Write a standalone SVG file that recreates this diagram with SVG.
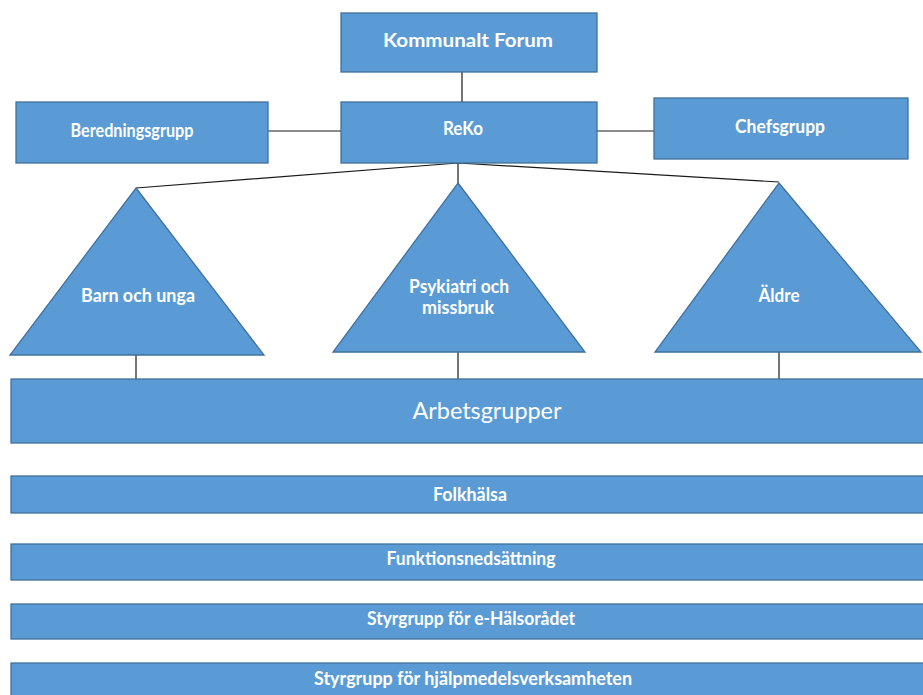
<svg xmlns="http://www.w3.org/2000/svg" width="923" height="695" viewBox="0 0 923 695">
<style>
.box{fill:#5B9BD5;stroke:#41719C;stroke-width:1.3}
.t{fill:#fff;font-family:Lato,"Open Sans","Liberation Sans",sans-serif;font-weight:700;font-size:18px;text-anchor:middle}
.big{font-weight:400;font-size:23px}
.c{stroke:#1a1a1a;stroke-width:1.2;fill:none}
</style>
<rect width="923" height="695" fill="#fff"/>
<g id="connectors">
<line class="c" x1="462" y1="72" x2="462" y2="102"/>
<line class="c" x1="268" y1="131" x2="341" y2="131"/>
<line class="c" x1="597" y1="131" x2="654" y2="131"/>
<polyline class="c" points="136,188 458,163 779,182"/>
<line class="c" x1="458" y1="163" x2="458" y2="183"/>
<line class="c" x1="136" y1="355" x2="136" y2="379"/>
<line class="c" x1="458" y1="352" x2="458" y2="379"/>
<line class="c" x1="779" y1="352" x2="779" y2="379"/>
</g>
<g id="kommunalt-forum">
<rect class="box" x="341" y="13" width="256" height="59"/>
<text class="t" x="468" y="47" font-size="21" textLength="170" lengthAdjust="spacingAndGlyphs">Kommunalt Forum</text>
</g>
<g id="reko">
<rect class="box" x="341" y="102" width="256" height="61"/>
<text class="t" x="463" y="135" textLength="40" lengthAdjust="spacingAndGlyphs">ReKo</text>
</g>
<g id="beredningsgrupp">
<rect class="box" x="16" y="102" width="252" height="61"/>
<text class="t" x="132" y="137" textLength="123" lengthAdjust="spacingAndGlyphs">Beredningsgrupp</text>
</g>
<g id="chefsgrupp">
<rect class="box" x="654" y="98" width="254" height="61"/>
<text class="t" x="780" y="133" textLength="90" lengthAdjust="spacingAndGlyphs">Chefsgrupp</text>
</g>
<g id="barn-och-unga">
<polygon class="box" points="136,188 264,355 10,355"/>
<text class="t" x="138" y="302" textLength="114" lengthAdjust="spacingAndGlyphs">Barn och unga</text>
</g>
<g id="psykiatri-och-missbruk">
<polygon class="box" points="458,183 585,352 333,352"/>
<text class="t" x="459" y="293" textLength="100" lengthAdjust="spacingAndGlyphs">Psykiatri och</text>
<text class="t" x="458" y="314" textLength="72" lengthAdjust="spacingAndGlyphs">missbruk</text>
</g>
<g id="aldre">
<polygon class="box" points="779,183 921,352 655,352"/>
<text class="t" x="779" y="302" textLength="41" lengthAdjust="spacingAndGlyphs">Äldre</text>
</g>
<g id="arbetsgrupper">
<rect class="box" x="11" y="379" width="920" height="64"/>
<text class="t big" x="487" y="419" textLength="149" lengthAdjust="spacingAndGlyphs">Arbetsgrupper</text>
</g>
<g id="folkhalsa">
<rect class="box" x="11" y="476" width="920" height="37"/>
<text class="t" x="470" y="501" textLength="74" lengthAdjust="spacingAndGlyphs">Folkhälsa</text>
</g>
<g id="funktionsnedsattning">
<rect class="box" x="11" y="544" width="920" height="36"/>
<text class="t" x="471" y="565" textLength="169" lengthAdjust="spacingAndGlyphs">Funktionsnedsättning</text>
</g>
<g id="styrgrupp-ehalso">
<rect class="box" x="11" y="604" width="920" height="35"/>
<text class="t" x="471" y="625" textLength="208" lengthAdjust="spacingAndGlyphs">Styrgrupp för e-Hälsorådet</text>
</g>
<g id="styrgrupp-hjalpmedel">
<rect class="box" x="11" y="663" width="920" height="40"/>
<text class="t" x="473" y="685" textLength="318" lengthAdjust="spacingAndGlyphs">Styrgrupp för hjälpmedelsverksamheten</text>
</g>
</svg>
